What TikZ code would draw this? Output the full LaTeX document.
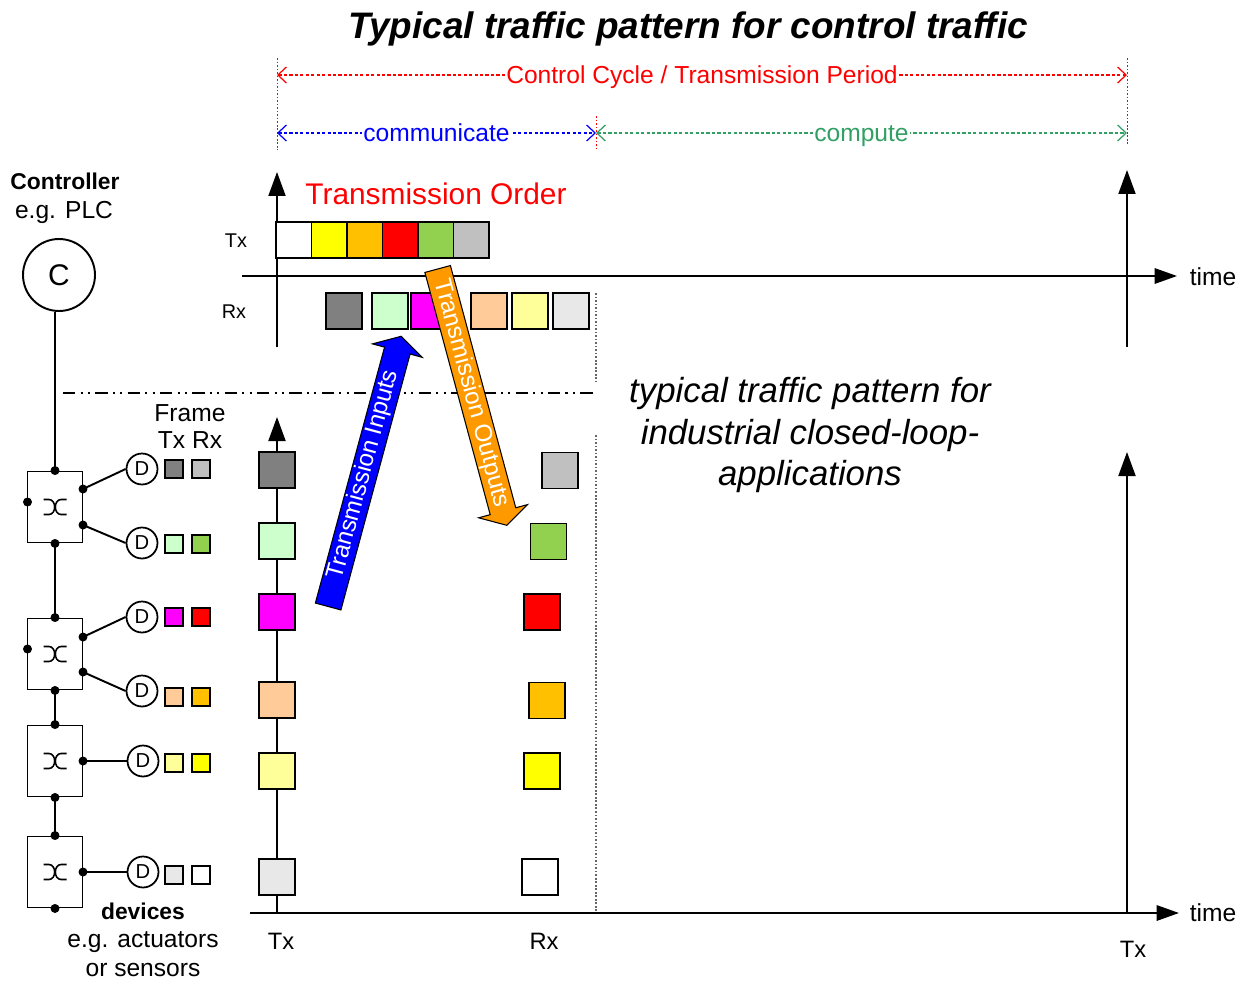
\documentclass[tikz,border=0pt]{standalone}
\usepackage{fontspec}
\setmainfont{Liberation Sans}
\usetikzlibrary{arrows.meta,shapes.arrows,calc}

\definecolor{cgreen}{RGB}{50,160,100}
\definecolor{fgrey}{RGB}{128,128,128}
\definecolor{fsilver}{RGB}{192,192,192}
\definecolor{fmint}{RGB}{204,255,204}
\definecolor{flime}{RGB}{146,208,80}
\definecolor{fmagenta}{RGB}{255,0,255}
\definecolor{fred}{RGB}{255,0,0}
\definecolor{fpeach}{RGB}{255,204,153}
\definecolor{famber}{RGB}{255,192,0}
\definecolor{fcream}{RGB}{255,255,153}
\definecolor{fyellow}{RGB}{255,255,0}
\definecolor{fpale}{RGB}{232,232,232}
\definecolor{aorange}{RGB}{255,153,0}
\definecolor{ablue}{RGB}{0,0,255}

\tikzset{
  txt/.style={inner sep=0pt, font=\fontsize{#1}{#1}\selectfont},
  frm/.style={draw, line width=1.1pt, minimum width=0.72cm, minimum height=0.72cm, inner sep=0pt},
  txfrm/.style={frm, minimum width=0.71cm},
  mini/.style={draw, line width=0.8pt, minimum size=0.36cm, inner sep=0pt},
  axis/.style={line width=1.1pt, -{Triangle[length=0.48cm,width=0.34cm]}},
  haxis/.style={line width=1.1pt, -{Triangle[length=0.45cm,width=0.31cm]}},
  swbox/.style={draw, line width=1.1pt, minimum width=1.1cm, minimum height=1.42cm, inner sep=0pt},
  dev/.style={circle, draw, line width=1pt, minimum size=0.62cm, inner sep=0pt, font=\fontsize{11.5}{11.5}\selectfont},
  wire/.style={line width=1.1pt},
  span/.style={line width=0.7pt, dash pattern=on 1.8pt off 1.3pt,
    {Straight Barb[length=0.17cm,width=0.32cm,line width=0.7pt]}-{Straight Barb[length=0.17cm,width=0.32cm,line width=0.7pt]}},
  spanlabel/.style={fill=white, inner xsep=1pt, inner ysep=0pt, text height=0.72em, text depth=0.05em,
    yshift=-0.05cm, font=\fontsize{14}{14}\selectfont},
  tickline/.style={red, line width=0.5pt, dash pattern=on 1pt off 1pt},
  sepline/.style={gray!80!black, line width=0.6pt, dash pattern=on 1pt off 1pt},
  blockarrow/.style={single arrow, draw=black, line width=0.6pt, anchor=tail,
    single arrow tip angle=120, inner xsep=2pt, inner ysep=0.8pt,
    text=white, font=\fontsize{13.8}{13.8}\selectfont},
}

\begin{document}
\begin{tikzpicture}[x=0.02cm, y=-0.02cm]
\useasboundingbox (0,0) rectangle (1242,981);

% ---------- heading and period markers ----------
\node (title) [txt=21, font=\fontsize{21}{21}\selectfont\bfseries\itshape] at (688,29)
  {Typical traffic pattern for control traffic};

\coordinate (cyc0) at (277,75);
\coordinate (cyc1) at (1127,75);
\coordinate (com0) at (277,133);
\coordinate (com1) at (596,133);
\coordinate (cmp1) at (1127,133);

\draw[tickline] (277,58) -- (277,150);
\draw[tickline] (1127,58) -- (1127,145);
\draw[tickline] (596,116) -- (596,150);

\draw[span, red] (cyc0) -- (cyc1)
  node (cyclabel) [midway, spanlabel, text=red] {Control Cycle / Transmission Period};
\draw[span, ablue] (com0) -- (com1)
  node (comlabel) [midway, spanlabel, text=ablue] {communicate};
\draw[span, cgreen] (com1) -- (cmp1)
  node (cmplabel) [midway, spanlabel, text=cgreen] {compute};

% ---------- controller view: axes ----------
\draw[axis] (277,347) -- (277,172);
\draw[haxis] (242,276) -- (1177,276);
\draw[axis] (1127,347) -- (1127,170);
\node (time1) [txt=14] at (1213,277) {time};
\node (txlab) [txt=11.3] at (236,241) {Tx};
\node (rxlab) [txt=11.3] at (234,312) {Rx};
\node (order) [txt=17, text=red] at (436,194) {Transmission Order};

% transmitted frames, in sending order
\node (tx1) [txfrm, fill=white]   at (293.75,240) {};
\node (tx2) [txfrm, fill=fyellow] at (329.25,240) {};
\node (tx3) [txfrm, fill=famber]  at (364.75,240) {};
\node (tx4) [txfrm, fill=fred]    at (400.25,240) {};
\node (tx5) [txfrm, fill=flime]   at (435.75,240) {};
\node (tx6) [txfrm, fill=fsilver] at (471.25,240) {};

% received frames
\node (rx1) [frm, fill=fgrey]    at (344,311) {};
\node (rx2) [frm, fill=fmint]    at (390,311) {};
\node (rx3) [frm, fill=fmagenta] at (429,311) {};
\node (rx4) [frm, fill=fpeach]   at (489,311) {};
\node (rx5) [frm, fill=fcream]   at (530,311) {};
\node (rx6) [frm, fill=fpale]    at (571,311) {};

% section separators
\draw[sepline] (596,293) -- (596,382);
\draw[sepline] (596,435) -- (596,912);
\draw[line width=1pt, dash pattern=on 7pt off 3pt on 1.2pt off 3pt on 1.2pt off 3pt] (63,393) -- (596,393);

% ---------- network view: axes ----------
\draw[axis] (277,913) -- (277,417);
\draw[haxis] (250,913) -- (1179,913);
\draw[axis] (1127,913) -- (1127,452);
\node (time2) [txt=14] at (1213,913) {time};
\node (txbot) [txt=13.5] at (281,941) {Tx};
\node (rxbot) [txt=13.5] at (544,941) {Rx};
\node (txend) [txt=13.5] at (1133,949) {Tx};

% frames leaving the devices
\node (dtx1) [frm, fill=fgrey]    at (277,470) {};
\node (dtx2) [frm, fill=fmint]    at (277,541) {};
\node (dtx3) [frm, fill=fmagenta] at (277,612) {};
\node (dtx4) [frm, fill=fpeach]   at (277,700) {};
\node (dtx5) [frm, fill=fcream]   at (277,771) {};
\node (dtx6) [frm, fill=fpale]    at (277,877) {};

% frames arriving at the devices
\node (drx1) [frm, fill=fsilver] at (560,470.5) {};
\node (drx2) [frm, fill=flime]   at (548.5,541.5) {};
\node (drx3) [frm, fill=fred]    at (542,612) {};
\node (drx4) [frm, fill=famber]  at (547,700.5) {};
\node (drx5) [frm, fill=fyellow] at (542,771) {};
\node (drx6) [frm, fill=white]   at (540,877) {};

\node (note) [inner sep=0pt, align=center,
  font=\fontsize{19.8}{23.8}\selectfont\itshape] at (810,435)
  {typical traffic pattern for\\industrial closed-loop-\\applications};

% ---------- controller and line topology ----------
\node (ctrl1) [txt=13, font=\fontsize{13}{13}\selectfont\bfseries] at (65,181) {Controller};
\node (ctrl2) [txt=14] at (64,212) {e.g. PLC};
\node (C) [circle, draw, line width=1.1pt, minimum size=1.44cm, inner sep=0pt,
  font=\fontsize{17}{17}\selectfont] at (59,275) {C};

\node (sw1) [swbox] at (55,507) {};
\node (sw2) [swbox] at (55,654) {};
\node (sw3) [swbox] at (55,761) {};
\node (sw4) [swbox] at (55,872) {};

% crossover glyph inside each switch
\foreach \s in {sw1,sw2,sw3,sw4}{
  \begin{scope}[shift={(\s.center)}]
    \draw[line width=0.9pt] (-11.5,-7.5) -- (-6,-7.5) .. controls (1.5,-7.5) and (1.5,7.5) .. (-6,7.5) -- (-11.5,7.5);
    \draw[line width=0.9pt] (11.5,-7.5) -- (6,-7.5) .. controls (-1.5,-7.5) and (-1.5,7.5) .. (6,7.5) -- (11.5,7.5);
  \end{scope}
}

\draw[wire] (C.south -| sw1.north) -- (sw1.north);
\draw[wire] (sw1.south) -- (sw2.north);
\draw[wire] (sw2.south) -- (sw3.north);
\draw[wire] (sw3.south) -- (sw4.north);

% switch ports
\coordinate (p1a) at (83,489);
\coordinate (p1b) at (83,525);
\coordinate (p1l) at (27.5,502);
\coordinate (p2a) at (83,637);
\coordinate (p2b) at (83,672);
\coordinate (p2l) at (27.5,649);
\coordinate (p3a) at (83,761);
\coordinate (p4a) at (83,872);

% devices
\node (d1) [dev] at (142,469) {D};
\node (d2) [dev] at (142,543) {D};
\node (d3) [dev] at (142,617) {D};
\node (d4) [dev] at (142,691) {D};
\node (d5) [dev] at (143,761) {D};
\node (d6) [dev] at (143,872) {D};

\draw[wire] (p1a) -- (d1.west);
\draw[wire] (p1b) -- (d2.west);
\draw[wire] (p2a) -- (d3.west);
\draw[wire] (p2b) -- (d4.west);
\draw[wire] (p3a) -- (d5.west);
\draw[wire] (p4a) -- (d6.west);

\foreach \p in {sw1.north,sw1.south,sw2.north,sw2.south,sw3.north,sw3.south,sw4.north,sw4.south,
                p1a,p1b,p1l,p2a,p2b,p2l,p3a,p4a}
  \fill (\p) circle[radius=0.09cm];

% per-device frame colours
\node (ftx1) [mini, fill=fgrey]    at (174,469) {};
\node (frx1) [mini, fill=fsilver]  at (201,469) {};
\node (ftx2) [mini, fill=fmint]    at (174,544) {};
\node (frx2) [mini, fill=flime]    at (201,544) {};
\node (ftx3) [mini, fill=fmagenta] at (174,617) {};
\node (frx3) [mini, fill=fred]     at (201,617) {};
\node (ftx4) [mini, fill=fpeach]   at (174,697) {};
\node (frx4) [mini, fill=famber]   at (201,697) {};
\node (ftx5) [mini, fill=fcream]   at (174,763) {};
\node (frx5) [mini, fill=fyellow]  at (201,763) {};
\node (ftx6) [mini, fill=fpale]    at (174,875) {};
\node (frx6) [mini, fill=white]    at (201,875) {};

\node (frame1) [txt=14] at (190,413) {Frame};
\node (frame2) [txt=14] at (190,440) {Tx Rx};
\node (dev1) [txt=13, font=\fontsize{13}{13}\selectfont\bfseries] at (143,911) {devices};
\node (dev2) [txt=14] at (143,942) {e.g. actuators};
\node (dev3) [txt=14] at (143,970) {or sensors};

% ---------- transfer arrows ----------
\node (tin) [blockarrow, fill=ablue, rotate=74.87, minimum height=5.6cm,
  single arrow head extend=0.25cm] at (328,607) {Transmission Inputs};
\node (tout) [blockarrow, fill=aorange, rotate=-74.9, minimum height=5.31cm,
  single arrow head extend=0.24cm] at (437.5,268.5) {Transmission Outputs};

\end{tikzpicture}
\end{document}
